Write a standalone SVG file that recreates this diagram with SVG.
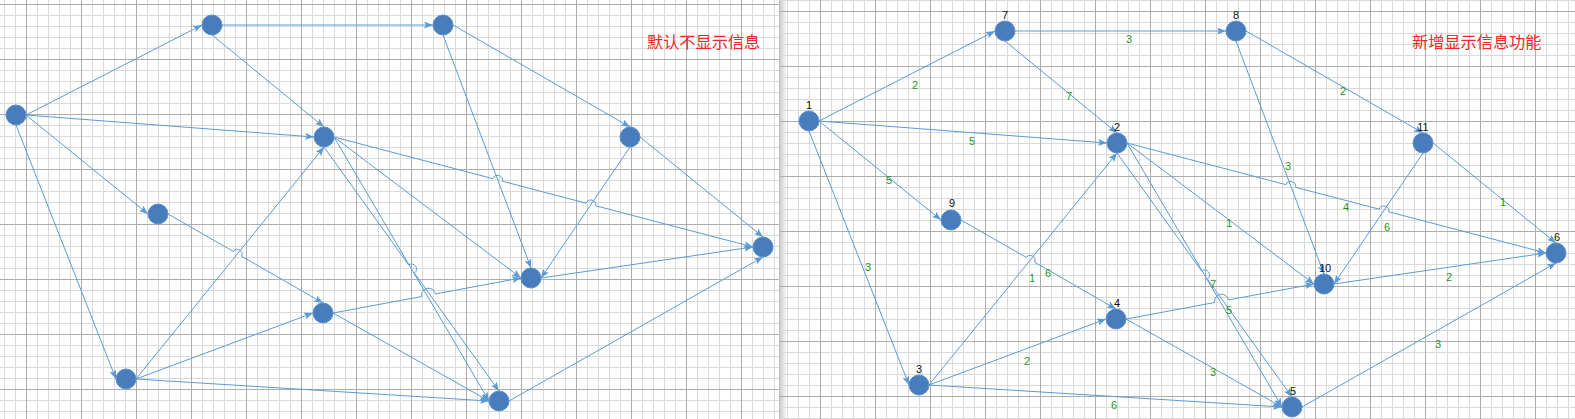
<svg xmlns="http://www.w3.org/2000/svg" width="1575" height="419" viewBox="0 0 1575 419">
<defs>
<pattern id="minorL" patternUnits="userSpaceOnUse" x="4" y="4" width="11" height="11"><path d="M0 0.5H11M0.5 0V11" stroke="#dadada" stroke-width="1" fill="none"/></pattern>
<pattern id="majorL" patternUnits="userSpaceOnUse" x="26" y="4" width="55" height="55"><path d="M0 0.5H55M0.5 0V55" stroke="#adadad" stroke-width="1" fill="none"/></pattern>
<pattern id="minorR" patternUnits="userSpaceOnUse" x="787" y="0" width="11" height="11"><path d="M0 0.5H11M0.5 0V11" stroke="#dadada" stroke-width="1" fill="none"/></pattern>
<pattern id="majorR" patternUnits="userSpaceOnUse" x="820" y="11" width="55" height="55"><path d="M0 0.5H55M0.5 0V55" stroke="#adadad" stroke-width="1" fill="none"/></pattern>
<linearGradient id="strip" x1="0" y1="0" x2="1" y2="0"><stop offset="0" stop-color="#c8c8c8"/><stop offset="1" stop-color="#f4f4f4"/></linearGradient>
<marker id="arr" viewBox="0 0 9 7" refX="9" refY="3.5" markerWidth="9" markerHeight="7" markerUnits="userSpaceOnUse" orient="auto"><path d="M0,0L9,3.5L0,7L2,3.5z" fill="#5b9bd5"/></marker>
</defs>
<style>
.edge{fill:none;stroke:#5b9bd5;stroke-width:1;marker-end:url(#arr)}
.node circle{fill:#477dbd;stroke:#5a8ecb;stroke-width:1}
.nl{font-family:"Liberation Sans",Arial,sans-serif;font-size:11px;fill:#111111;text-anchor:middle}
.el{font-family:"Liberation Sans",Arial,sans-serif;font-size:11px;fill:#1f961f;text-anchor:middle}
.title{font-family:"Noto Sans CJK SC","Noto Sans CJK JP",sans-serif;font-size:16.2px;fill:#f0282d}
</style>
<rect x="0" y="0" width="1575" height="419" fill="#ffffff"/>
<g id="grid-left">
<rect x="0" y="0" width="779" height="419" fill="url(#minorL)"/>
<rect x="0" y="0" width="779" height="419" fill="url(#majorL)"/>
</g>
<g id="grid-right">
<rect x="779" y="0" width="7" height="419" fill="url(#strip)"/>
<rect x="779" y="0" width="796" height="419" fill="url(#minorR)"/>
<rect x="779" y="0" width="796" height="419" fill="url(#majorR)"/>
<line x1="779.5" y1="0" x2="779.5" y2="419" stroke="#bdbdbd"/>
</g>

<g id="connectors-left">
<path class="edge" d="M26,115L202,25"/>
<path class="edge" d="M26,115L314,137"/>
<path class="edge" d="M26,115L148,214"/>
<path class="edge" d="M16,125L116,379"/>
<path class="edge" d="M222,25L433,25"/>
<path class="edge" d="M212,35L324,127"/>
<path class="edge" d="M453,25L630,127"/>
<path class="edge" d="M443,35L531,268"/>
<path class="edge" d="M630,147L541,278"/>
<path class="edge" d="M640,137L763,237"/>
<path class="edge" d="M334,137L493,178.7A5,5 0 0 1 502.6,181.3L586.2,203.2A5,5 0 0 1 595.8,205.8L753,247"/>
<path class="edge" d="M334,137L521,278"/>
<path class="edge" d="M334,137L489,401"/>
<path class="edge" d="M324,147L408.6,264.9A5,5 0 0 1 414.4,273.1L499,391"/>
<path class="edge" d="M168,214L233.1,251.3A5,5 0 0 1 241.7,256.3L323,303"/>
<path class="edge" d="M136,379L324,147"/>
<path class="edge" d="M136,379L313,313"/>
<path class="edge" d="M136,379L489,401"/>
<path class="edge" d="M333,313L421.7,296.5A7,7 0 0 1 435.5,293.9L521,278"/>
<path class="edge" d="M333,313L489,401"/>
<path class="edge" d="M541,278L753,247"/>
<path class="edge" d="M509,401L763,257"/>
</g>

<g id="connectors-right" transform="translate(793,6)">
<path class="edge" d="M26,115L202,25"/>
<path class="edge" d="M26,115L314,137"/>
<path class="edge" d="M26,115L148,214"/>
<path class="edge" d="M16,125L116,379"/>
<path class="edge" d="M222,25L433,25"/>
<path class="edge" d="M212,35L324,127"/>
<path class="edge" d="M453,25L630,127"/>
<path class="edge" d="M443,35L531,268"/>
<path class="edge" d="M630,147L541,278"/>
<path class="edge" d="M640,137L763,237"/>
<path class="edge" d="M334,137L493,178.7A5,5 0 0 1 502.6,181.3L586.2,203.2A5,5 0 0 1 595.8,205.8L753,247"/>
<path class="edge" d="M334,137L521,278"/>
<path class="edge" d="M334,137L489,401"/>
<path class="edge" d="M324,147L408.6,264.9A5,5 0 0 1 414.4,273.1L499,391"/>
<path class="edge" d="M168,214L233.1,251.3A5,5 0 0 1 241.7,256.3L323,303"/>
<path class="edge" d="M136,379L324,147"/>
<path class="edge" d="M136,379L313,313"/>
<path class="edge" d="M136,379L489,401"/>
<path class="edge" d="M333,313L421.7,296.5A7,7 0 0 1 435.5,293.9L521,278"/>
<path class="edge" d="M333,313L489,401"/>
<path class="edge" d="M541,278L753,247"/>
<path class="edge" d="M509,401L763,257"/>
</g>

<g id="edge-labels-right">
<text class="el" x="915" y="89">2</text>
<text class="el" x="972" y="145">5</text>
<text class="el" x="889" y="184">5</text>
<text class="el" x="868" y="271">3</text>
<text class="el" x="1129" y="43">3</text>
<text class="el" x="1069" y="100">7</text>
<text class="el" x="1343" y="95">2</text>
<text class="el" x="1288" y="170">3</text>
<text class="el" x="1503" y="206">1</text>
<text class="el" x="1346" y="211">4</text>
<text class="el" x="1229" y="227">1</text>
<text class="el" x="1387" y="231">6</text>
<text class="el" x="1213" y="288">7</text>
<text class="el" x="1229" y="314">5</text>
<text class="el" x="1449" y="281">2</text>
<text class="el" x="1213" y="376">3</text>
<text class="el" x="1438" y="348">3</text>
<text class="el" x="1048" y="277">6</text>
<text class="el" x="1032" y="282">1</text>
<text class="el" x="1027" y="365">2</text>
<text class="el" x="1114" y="409">6</text>
</g>

<g id="node-L1" class="node"><circle cx="16" cy="115" r="10"/></g>
<g id="node-L7" class="node"><circle cx="212" cy="25" r="10"/></g>
<g id="node-L8" class="node"><circle cx="443" cy="25" r="10"/></g>
<g id="node-L2" class="node"><circle cx="324" cy="137" r="10"/></g>
<g id="node-L11" class="node"><circle cx="630" cy="137" r="10"/></g>
<g id="node-L9" class="node"><circle cx="158" cy="214" r="10"/></g>
<g id="node-L4" class="node"><circle cx="323" cy="313" r="10"/></g>
<g id="node-L3" class="node"><circle cx="126" cy="379" r="10"/></g>
<g id="node-L10" class="node"><circle cx="531" cy="278" r="10"/></g>
<g id="node-L6" class="node"><circle cx="763" cy="247" r="10"/></g>
<g id="node-L5" class="node"><circle cx="499" cy="401" r="10"/></g>

<g id="node-R1" class="node"><circle cx="809" cy="121" r="10"/><text class="nl" x="809" y="109">1</text></g>
<g id="node-R7" class="node"><circle cx="1005" cy="31" r="10"/><text class="nl" x="1005" y="19">7</text></g>
<g id="node-R8" class="node"><circle cx="1236" cy="31" r="10"/><text class="nl" x="1236" y="19">8</text></g>
<g id="node-R2" class="node"><circle cx="1117" cy="143" r="10"/><text class="nl" x="1117" y="131">2</text></g>
<g id="node-R11" class="node"><circle cx="1423" cy="143" r="10"/><text class="nl" x="1423" y="131">11</text></g>
<g id="node-R9" class="node"><circle cx="951" cy="220" r="10"/><text class="nl" x="952" y="207">9</text></g>
<g id="node-R4" class="node"><circle cx="1116" cy="319" r="10"/><text class="nl" x="1117" y="307">4</text></g>
<g id="node-R3" class="node"><circle cx="919" cy="385" r="10"/><text class="nl" x="919" y="373">3</text></g>
<g id="node-R10" class="node"><circle cx="1324" cy="284" r="10"/><text class="nl" x="1325" y="272">10</text></g>
<g id="node-R6" class="node"><circle cx="1556" cy="253" r="10"/><text class="nl" x="1557" y="241">6</text></g>
<g id="node-R5" class="node"><circle cx="1292" cy="407" r="10"/><text class="nl" x="1293" y="395">5</text></g>

<text id="title-left" class="title" x="647" y="48">默认不显示信息</text>
<text id="title-right" class="title" x="1412" y="48">新增显示信息功能</text>
</svg>
